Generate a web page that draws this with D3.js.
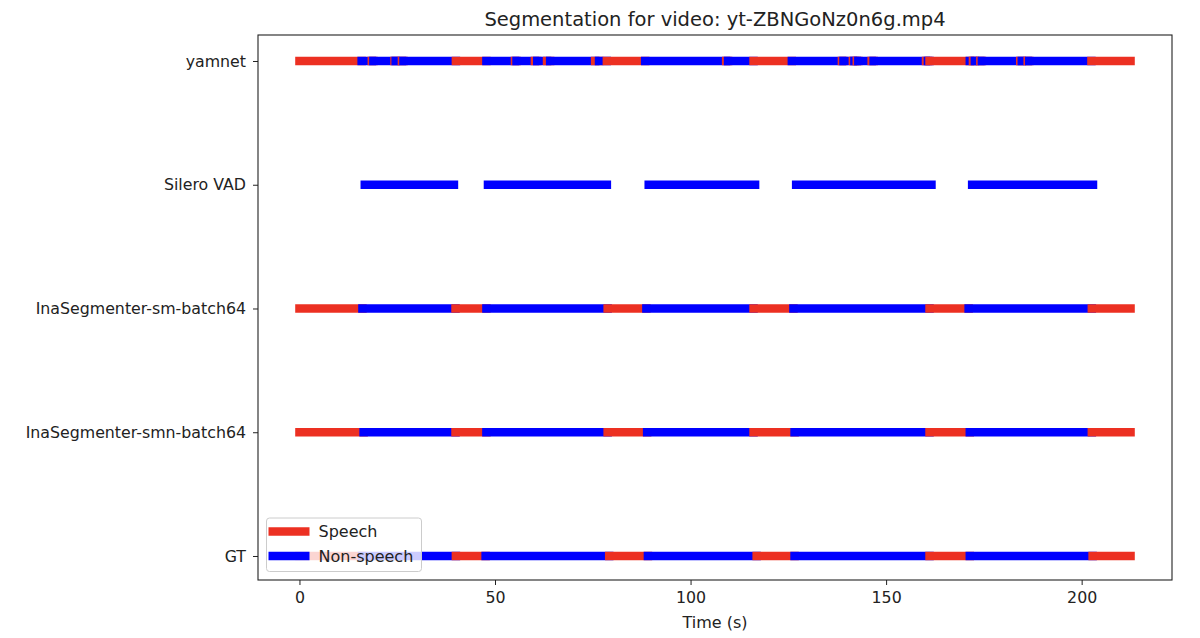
<!DOCTYPE html>
<html>
<head>
<meta charset="utf-8">
<script src="https://cdn.jsdelivr.net/npm/d3@7"></script>
<style>
  body { margin: 0; background: #fff; }
  text { font-family: "DejaVu Sans", sans-serif; fill: #222; }
</style>
</head>
<body>
<svg id="chart"></svg>
<script>
// systems, bottom to top
const systems = ['GT', 'InaSegmenter-smn-batch64', 'InaSegmenter-sm-batch64', 'Silero VAD', 'yamnet'];
const xTicks = [0, 50, 100, 150, 200];

// segments: [start (s), end (s), label]  S = speech, N = non-speech
const gtSegments = [
  [0, 16.0, 'S'], [16.0, 40.0, 'N'], [40.0, 47.6, 'S'], [47.6, 79.2, 'N'], [79.2, 89.1, 'S'],
  [89.1, 116.9, 'N'], [116.9, 126.6, 'S'], [126.6, 161.1, 'N'], [161.1, 171.4, 'S'],
  [171.4, 202.8, 'N'], [202.8, 212.5, 'S']
];
const inaSmnSegments = [
  [0, 16.4, 'S'], [16.4, 39.9, 'N'], [39.9, 47.8, 'S'], [47.8, 78.8, 'N'], [78.8, 88.9, 'S'],
  [88.9, 116.1, 'N'], [116.1, 126.6, 'S'], [126.6, 161.1, 'N'], [161.1, 171.4, 'S'],
  [171.4, 202.6, 'N'], [202.6, 212.5, 'S']
];
const inaSmSegments = [
  [0, 16.1, 'S'], [16.1, 39.9, 'N'], [39.9, 47.8, 'S'], [47.8, 78.8, 'N'], [78.8, 88.7, 'S'],
  [88.7, 116.1, 'N'], [116.1, 126.3, 'S'], [126.3, 161.1, 'N'], [161.1, 171.1, 'S'],
  [171.1, 202.6, 'N'], [202.6, 212.5, 'S']
];
const sileroSegments = [
  [16.7, 39.5, 'N'], [48.2, 78.6, 'N'], [89.3, 116.5, 'N'], [127.0, 161.6, 'N'], [172.0, 202.9, 'N']
];
const yamnetSegments = [
  [0, 15.9, 'S'], [15.9, 18.5, 'N'], [18.5, 18.9, 'S'], [18.9, 24.3, 'N'], [24.3, 24.6, 'S'],
  [24.6, 26.2, 'N'], [26.2, 26.6, 'S'], [26.6, 40.0, 'N'], [40.0, 47.8, 'S'], [47.8, 55.1, 'N'],
  [55.1, 55.5, 'S'], [55.5, 60.2, 'N'], [60.2, 60.8, 'S'], [60.8, 63.3, 'N'], [63.3, 64.1, 'S'],
  [64.1, 75.6, 'N'], [75.6, 76.6, 'S'], [76.6, 78.6, 'N'], [78.6, 88.4, 'S'], [88.4, 109.1, 'N'],
  [109.1, 109.6, 'S'], [109.6, 116.1, 'N'], [116.1, 125.9, 'S'], [125.9, 138.7, 'N'],
  [138.7, 139.1, 'S'], [139.1, 141.5, 'N'], [141.5, 141.9, 'S'], [141.9, 142.5, 'N'],
  [142.5, 142.9, 'S'], [142.9, 146.3, 'N'], [146.3, 146.8, 'S'], [146.8, 160.2, 'N'],
  [160.2, 160.7, 'S'], [160.7, 161.1, 'N'], [161.1, 171.4, 'S'], [171.4, 172.2, 'N'],
  [172.2, 172.7, 'S'], [172.7, 174.1, 'N'], [174.1, 174.5, 'S'], [174.5, 184.3, 'N'],
  [184.3, 184.7, 'S'], [184.7, 186.2, 'N'], [186.2, 186.6, 'S'], [186.6, 202.5, 'N'],
  [202.5, 212.5, 'S']
];
const rows = [gtSegments, inaSmnSegments, inaSmSegments, sileroSegments, yamnetSegments];

const colors = { S: '#ec3022', N: '#0000ff' };
const legendItems = [['S', 'Speech'], ['N', 'Non-speech']];

const width = 1200, height = 638;
const margin = { top: 35, right: 28, bottom: 58, left: 258 };
const innerW = width - margin.left - margin.right;
const innerH = height - margin.top - margin.bottom;

const svg = d3.select('#chart').attr('width', width).attr('height', height);
const g = svg.append('g').attr('transform', 'translate(' + margin.left + ',' + margin.top + ')');

// margins around the data range, like matplotlib
const x = d3.scaleLinear().domain([-10.6, 223.1]).range([0, innerW]);
const y = d3.scaleLinear().domain([-0.194, systems.length - 1 + 0.21]).range([innerH, 0]);

// segments, drawn in time order with projecting caps
rows.forEach(function(segs, i) {
  g.append('g').selectAll('line')
    .data(segs)
    .join('line')
    .attr('x1', d => x(d[0]))
    .attr('x2', d => x(d[1]))
    .attr('y1', y(i))
    .attr('y2', y(i))
    .attr('stroke', d => colors[d[2]])
    .attr('stroke-width', 8.5)
    .attr('stroke-linecap', 'square');
});

// axes
const xAxis = g.append('g')
  .attr('transform', 'translate(0,' + innerH + ')')
  .call(d3.axisBottom(x).tickValues(xTicks).tickSize(5).tickPadding(7).tickSizeOuter(0));
const yAxis = g.append('g')
  .call(d3.axisLeft(y).tickValues(d3.range(systems.length)).tickFormat(i => systems[i])
    .tickSize(5).tickPadding(7).tickSizeOuter(0));
[xAxis, yAxis].forEach(function(a) {
  a.select('.domain').remove();
  a.selectAll('line').attr('stroke', '#222').attr('stroke-width', 1);
  a.selectAll('text').attr('font-size', 15.8).attr('fill', '#222')
    .style('font-family', '"DejaVu Sans", sans-serif');
});

// frame
g.append('rect')
  .attr('width', innerW).attr('height', innerH)
  .attr('fill', 'none').attr('stroke', '#222').attr('stroke-width', 1.1);

// title and axis label
svg.append('text')
  .attr('x', margin.left + innerW / 2).attr('y', 26)
  .attr('text-anchor', 'middle').attr('font-size', 19.5)
  .text('Segmentation for video: yt-ZBNGoNz0n6g.mp4');
svg.append('text')
  .attr('x', margin.left + innerW / 2).attr('y', 628)
  .attr('text-anchor', 'middle').attr('font-size', 16)
  .text('Time (s)');

// legend
const lg = g.append('g').attr('transform', 'translate(8.5,' + (innerH - 62) + ')');
lg.append('rect')
  .attr('width', 155).attr('height', 53.5).attr('rx', 3)
  .attr('fill', '#fff').attr('fill-opacity', 0.8)
  .attr('stroke', '#ccc').attr('stroke-width', 1);
legendItems.forEach(function(item, i) {
  const ly = 13.5 + i * 24.5;
  lg.append('line')
    .attr('x1', 2).attr('x2', 43).attr('y1', ly).attr('y2', ly)
    .attr('stroke', colors[item[0]]).attr('stroke-width', 8.5);
  lg.append('text')
    .attr('x', 52).attr('y', ly).attr('dy', '0.35em')
    .attr('font-size', 16)
    .text(item[1]);
});
</script>
</body>
</html>
